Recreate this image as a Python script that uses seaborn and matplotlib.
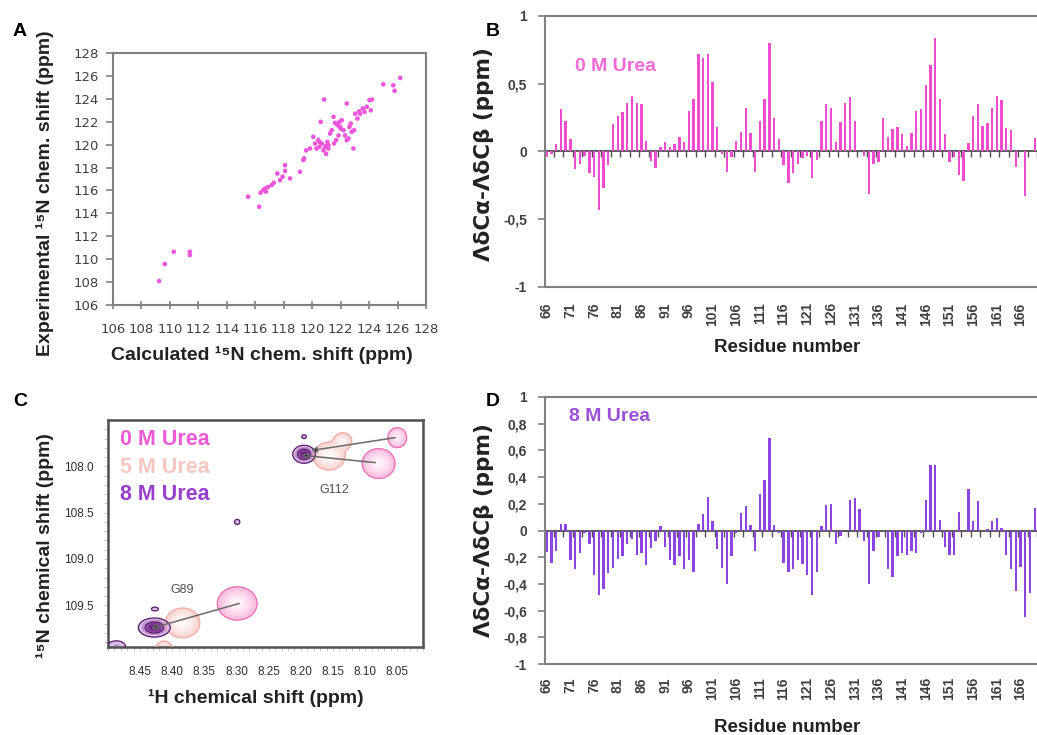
import numpy as np
import pandas as pd
import matplotlib
matplotlib.use("Agg")
import matplotlib.pyplot as plt
import seaborn as sns

# ---------------- Panel A data ----------------
calc_n15 = [109.24, 109.64, 110.27, 111.4, 111.4, 115.5, 116.28, 116.37, 116.56, 116.68,
            116.75, 116.9, 117.15, 117.3, 117.55, 117.74, 117.92, 118.09, 118.09, 118.44,
            119.15, 119.38, 119.43, 119.57, 119.85, 120.08, 120.2, 120.3, 120.43, 120.5,
            120.6, 120.67, 120.79, 120.84, 120.9, 120.98, 121.07, 121.14, 121.26, 121.38,
            121.5, 121.54, 121.68, 121.77, 121.85, 121.92, 121.96, 122.08, 122.2, 122.31,
            122.43, 122.55, 122.62, 122.71, 122.78, 122.9, 122.95, 123.02, 123.18, 123.37,
            123.56, 123.68, 123.84, 124.03, 124.12, 124.2, 125.0, 125.7, 125.79, 126.19,
            122.43, 121.14, 120.55, 121.0, 121.6, 122.0, 123.3]
exp_n15 = [108.09, 109.58, 110.65, 110.65, 110.36, 115.45, 114.58, 115.8, 116.03, 116.17,
           115.9, 116.3, 116.47, 116.67, 117.48, 116.9, 117.2, 117.7, 118.2, 117.05,
           117.63, 118.65, 118.8, 119.5, 119.66, 120.68, 120.1, 119.66, 120.4, 119.8,
           121.99, 120.1, 119.5, 123.94, 119.8, 119.2, 120.24, 119.95, 120.97, 121.26,
           122.43, 120.1, 120.4, 121.7, 120.8, 121.99, 121.55, 122.13, 121.26, 120.8,
           123.59, 120.53, 121.55, 121.84, 121.12, 119.66, 121.26, 122.7, 122.28, 122.7,
           123.15, 122.86, 123.3, 123.88, 123.0, 123.94, 125.27, 125.18, 124.7, 125.83,
           120.39, 119.66, 120.2, 119.9, 121.9, 121.4, 122.9]
axis_ticks_A = list(range(106, 129, 2))

# ---------------- Panels B / D data ----------------
residues = list(range(66, 170))
delta_0M = [-0.04, -0.02, 0.056, 0.317, 0.227, 0.093, -0.13, -0.09, -0.03, -0.156,
            -0.19, -0.43, -0.27, -0.10, 0.20, 0.26, 0.29, 0.36, 0.41, 0.36,
            0.35, 0.08, -0.07, -0.12, 0.03, 0.07, 0.03, 0.056, 0.11, 0.07,
            0.30, 0.39, 0.72, 0.69, 0.72, 0.51, 0.18, -0.02, -0.15, -0.04,
            0.08, 0.146, 0.32, 0.137, -0.15, 0.227, 0.39, 0.80, 0.244, 0.093,
            -0.10, -0.23, -0.156, -0.095, -0.05, -0.03, -0.195, -0.066, 0.227, 0.35,
            0.32, 0.07, 0.22, 0.36, 0.40, 0.227, 0.0, -0.03, -0.31, -0.095,
            -0.08, 0.25, 0.105, 0.166, 0.18, 0.13, 0.044, 0.14, 0.30, 0.317,
            0.49, 0.64, 0.84, 0.39, 0.13, -0.08, -0.04, -0.175, -0.22, 0.063,
            0.26, 0.35, 0.19, 0.21, 0.32, 0.41, 0.38, 0.17, 0.16, -0.115,
            0.0, -0.33, 0.0, 0.1]
delta_8M = [-0.16, -0.24, -0.15, 0.05, 0.05, -0.22, -0.29, -0.17, -0.02, -0.10,
            -0.33, -0.48, -0.44, -0.32, -0.28, -0.21, -0.19, -0.10, -0.06, -0.18,
            -0.17, -0.26, -0.13, -0.08, 0.03, -0.12, -0.22, -0.26, -0.19, -0.29,
            -0.22, -0.31, 0.05, 0.12, 0.25, 0.07, -0.14, -0.28, -0.40, -0.19,
            -0.02, 0.13, 0.18, 0.04, -0.15, 0.27, 0.38, 0.69, 0.04, -0.02,
            -0.24, -0.31, -0.29, -0.22, -0.25, -0.33, -0.48, -0.31, 0.03, 0.19,
            0.20, -0.10, -0.04, 0.0, 0.23, 0.24, 0.16, -0.08, -0.40, -0.15,
            -0.05, 0.0, -0.29, -0.35, -0.19, -0.17, -0.18, -0.15, -0.17, -0.02,
            0.23, 0.49, 0.49, 0.08, -0.12, -0.18, -0.18, 0.14, 0.0, 0.31,
            0.07, 0.22, 0.0, 0.01, 0.07, 0.09, 0.02, -0.18, -0.29, -0.45,
            -0.27, -0.65, -0.47, 0.17]
yticks_B = [-1, -0.5, 0, 0.5, 1]
yticklabels_B = ["-1", "-0,5", "0", "0,5", "1"]
yticks_D = [-1, -0.8, -0.6, -0.4, -0.2, 0, 0.2, 0.4, 0.6, 0.8, 1]
yticklabels_D = ["-1", "-0,8", "-0,6", "-0,4", "-0,2", "0", "0,2", "0,4", "0,6", "0,8", "1"]

# ---------------- Panel C data (HSQC peaks) ----------------
peak_cond = ["0M", "0M", "0M", "5M", "5M", "5M", "5M",
             "8M", "8M", "8M", "8M", "8M", "8M"]
peak_h = [8.050, 8.079, 8.299, 8.135, 8.156, 8.384, 8.413,
          8.195, 8.195, 8.299, 8.428, 8.427, 8.487]
peak_n = [107.69, 107.97, 109.48, 107.73, 107.89, 109.69, 109.98,
          107.87, 107.68, 108.60, 109.74, 109.54, 109.94]
peak_wh = [0.0075, 0.0124, 0.015, 0.0073, 0.012, 0.013, 0.007,
           0.0085, 0.0025, 0.003, 0.012, 0.004, 0.010]
peak_wn = [0.055, 0.078, 0.087, 0.047, 0.073, 0.078, 0.05,
           0.047, 0.015, 0.02, 0.05, 0.015, 0.04]
peak_amp = [0.8, 1.0, 1.0, 0.8, 1.0, 1.0, 0.7,
            1.0, 0.3, 0.3, 1.0, 0.3, 0.32]
arrow_from_h = [8.053, 8.084, 8.296]
arrow_from_n = [107.69, 107.96, 109.48]
arrow_to_h = [8.184, 8.199, 8.433]
arrow_to_n = [107.83, 107.88, 109.75]
peak_labels = ["G112", "G89"]
peak_label_h = [8.148, 8.384]
peak_label_n = [108.26, 109.33]
urea_labels = ["0 M Urea", "5 M Urea", "8 M Urea"]

# ---------------- style ----------------
sns.set_theme(style="white")
plt.rcParams['font.family'] = ['Liberation Sans', 'DejaVu Sans']
PINK = "#F04CD0"
PURPLE = "#8E44E0"
GREY = "#808080"

fig = plt.figure(figsize=(10.37, 7.35), dpi=100)
W, H = 1037.0, 735.0


def ax_px(l, t, r, b):
    return fig.add_axes([l / W, 1 - b / H, (r - l) / W, (b - t) / H])


# ================= Panel A =================
axA = ax_px(113, 53, 426, 305)
dfA = pd.DataFrame({"calc": calc_n15, "exp": exp_n15})
sns.scatterplot(data=dfA, x="calc", y="exp", color="#EE55DD", s=11, edgecolor="none",
                marker="o", ax=axA, legend=False)
axA.set_xlim(106, 128)
axA.set_ylim(106, 128)
axA.set_xticks(axis_ticks_A)
axA.set_yticks(axis_ticks_A)
axA.set_xticklabels([str(v) for v in axis_ticks_A], family="DejaVu Sans", fontsize=9.5, color="#404040")
axA.set_yticklabels([str(v) for v in axis_ticks_A], family="DejaVu Sans", fontsize=9.5, color="#404040")
for sp in axA.spines.values():
    sp.set_color(GREY)
    sp.set_linewidth(1.5)
axA.tick_params(axis='y', direction='out', length=5, width=1.2, color=GREY, pad=5, left=True)
axA.tick_params(axis='x', direction='inout', length=6, width=1.2, color=GREY, pad=10, bottom=True)
axA.set_xlabel("Calculated \u00b9\u2075N chem. shift (ppm)", fontsize=14, fontweight="bold", color="#222222")
axA.set_ylabel("Experimental \u00b9\u2075N chem. shift (ppm)", fontsize=14, fontweight="bold", color="#222222")
axA.xaxis.set_label_coords(0.476, -0.198)
axA.xaxis.label.set_va("center")
axA.yaxis.set_label_coords(-0.217, 0.444)
axA.yaxis.label.set_va("center")


# ================= Panels B and D =================
def bar_panel(ax, values, color, yticks, yticklabels, label_text, label_color, label_pos,
              xpad, xlabel_y, ylabel_y):
    df = pd.DataFrame({"res": residues, "val": values})
    sns.barplot(data=df, x="res", y="val", color=color, width=0.5, ax=ax,
                saturation=1, linewidth=0, errorbar=None)
    n = len(residues)
    ax.set_xlim(-0.36, 103.9)
    ax.set_ylim(-1, 1)
    idx = list(range(0, n - 3, 5))
    ax.set_xticks(idx)
    ax.set_xticklabels([str(residues[i]) for i in idx], rotation=90, fontsize=10,
                       fontweight="bold", color="#404040", va="top", ha="center")
    ax.tick_params(axis='x', length=0, pad=xpad)
    ax.set_yticks(yticks)
    ax.set_yticklabels(yticklabels, fontsize=10, fontweight="bold", color="#404040")
    ax.tick_params(axis='y', direction='out', length=5, width=1.2, color=GREY, pad=8, left=True)
    for sp in ax.spines.values():
        sp.set_color(GREY)
        sp.set_linewidth(1.5)
    sec = ax.secondary_xaxis(0.5)
    sec.set_alignment('bottom')
    sec.set_xticks(np.arange(1.5, n, 2))
    sec.tick_params(axis='x', direction='out', length=4, width=1, color="#505050",
                    labelbottom=False, labeltop=False)
    sec.spines['bottom'].set_color("#404040")
    sec.spines['bottom'].set_linewidth(1.2)
    ax.set_xlabel("Residue number", fontsize=13.5, fontweight="bold", color="#222222")
    ax.xaxis.set_label_coords(0.49, xlabel_y)
    ax.xaxis.label.set_va("center")
    ax.set_ylabel("\u039b\u03b4C\u03b1-\u039b\u03b4C\u03b2 (ppm)", fontsize=15.5, fontweight="bold",
                  color="#222222", family="DejaVu Sans")
    ax.yaxis.set_label_coords(-0.123, ylabel_y)
    ax.yaxis.label.set_va("center")
    ax.text(label_pos[0], label_pos[1], label_text, transform=ax.transAxes, fontsize=14,
            fontweight="bold", color=label_color, ha="left", va="center")


axB = ax_px(545, 16, 1039, 287)
bar_panel(axB, delta_0M, PINK, yticks_B, yticklabels_B, "0 M Urea", "#F26AD8",
          (0.061, 0.812), 11, -0.225, 0.49)

axD = ax_px(545, 397, 1039, 664)
bar_panel(axD, delta_8M, PURPLE, yticks_D, yticklabels_D, "8 M Urea", "#9C4FD8",
          (0.049, 0.927), 9.5, -0.236, 0.5)

# ================= Panel C =================
axC = ax_px(108, 420, 423, 647)
hg = np.linspace(8.0, 8.5, 600)
ng = np.linspace(107.45, 110.05, 600)
HH, NN = np.meshgrid(hg, ng)
styles = {
    "0M": (["#F9C0DF", "#FBD0E8", "#FCDDEF", "#FDE8F4", "#FEF1F8"], "#EE6FB3", [0.12]),
    "5M": (["#F9D6D1", "#FBE2DE", "#FCEBE8", "#FDF2F0", "#FEF7F6"], "#F2ADA4", [0.12]),
    "8M": (["#D9BCE3", "#BE92CF", "#A164B7", "#85399B", "#6A2380"], "#5A1B6E", [0.12, 0.5]),
}
levels = [0.12, 0.3, 0.5, 0.7, 0.88, 10]
for cond in ["0M", "5M", "8M"]:
    Z = np.zeros_like(HH)
    for c, h0, n0, wh, wn, a in zip(peak_cond, peak_h, peak_n, peak_wh, peak_wn, peak_amp):
        if c == cond:
            Z += a * np.exp(-0.5 * (((HH - h0) / wh) ** 2 + ((NN - n0) / wn) ** 2))
    fills, line, line_levels = styles[cond]
    axC.contourf(HH, NN, Z, levels=levels, colors=fills, zorder=2)
    axC.contour(HH, NN, Z, levels=line_levels, colors=line, linewidths=0.9, zorder=3)

for h0, n0, h1, n1 in zip(arrow_from_h, arrow_from_n, arrow_to_h, arrow_to_n):
    axC.annotate("", xy=(h1, n1), xytext=(h0, n0),
                 arrowprops=dict(arrowstyle="-|>", color="#6a6a6a", lw=1.1,
                                 mutation_scale=8, shrinkA=0, shrinkB=0,
                                 fc="black"), zorder=5)
for lab, h0, n0 in zip(peak_labels, peak_label_h, peak_label_n):
    axC.text(h0, n0, lab, fontsize=9, color="#505050", ha="center", va="center", zorder=6,
             family=["Liberation Sans Narrow", "Liberation Sans"])

urea_colors = ["#EE5BD6", "#F8C6C0", "#9A3FCC"]
urea_y = [0.916, 0.789, 0.670]
for lab, col, yy in zip(urea_labels, urea_colors, urea_y):
    axC.text(0.038, yy, lab, transform=axC.transAxes, fontsize=15.5, fontweight="bold",
             color=col, ha="left", va="center", zorder=7)

axC.set_xlim(8.495, 8.01)
axC.set_ylim(109.95, 107.50)
xt = [8.45, 8.40, 8.35, 8.30, 8.25, 8.20, 8.15, 8.10, 8.05]
yt = [108.0, 108.5, 109.0, 109.5]
axC.set_xticks(xt)
axC.set_xticklabels([f"{v:.2f}" for v in xt], fontsize=8.5, color="#303030",
                    family=["Liberation Sans Narrow", "Liberation Sans"])
axC.set_yticks(yt)
axC.set_yticklabels([f"{v:.1f}" for v in yt], fontsize=8.5, color="#303030",
                    family=["Liberation Sans Narrow", "Liberation Sans"])
axC.set_xticks(np.arange(8.01, 8.50, 0.01), minor=True)
axC.set_yticks(np.arange(107.6, 109.95, 0.1), minor=True)
axC.tick_params(which='both', direction='out', length=3, width=0.8, color="#C8C8C8",
                left=True, bottom=True)
axC.tick_params(axis='x', which='major', pad=11)
axC.tick_params(axis='y', which='major', pad=7)
for sp in axC.spines.values():
    sp.set_color("#505050")
    sp.set_linewidth(1.8)
axC.set_xlabel("\u00b9H chemical shift (ppm)", fontsize=14, fontweight="bold", color="#222222")
axC.set_ylabel("\u00b9\u2075N chemical shift (ppm)", fontsize=14, fontweight="bold", color="#222222")
axC.xaxis.set_label_coords(0.47, -0.225)
axC.xaxis.label.set_va("center")
axC.yaxis.set_label_coords(-0.2, 0.449)
axC.yaxis.label.set_va("center")

# panel letters
for letter, x, y in [("A", 13, 31), ("B", 486, 31), ("C", 13, 402), ("D", 486, 401)]:
    fig.text(x / W, 1 - y / H, letter, fontsize=14, fontweight="bold", color="black",
             ha="left", va="center")

fig.savefig("out.png", dpi=100)
